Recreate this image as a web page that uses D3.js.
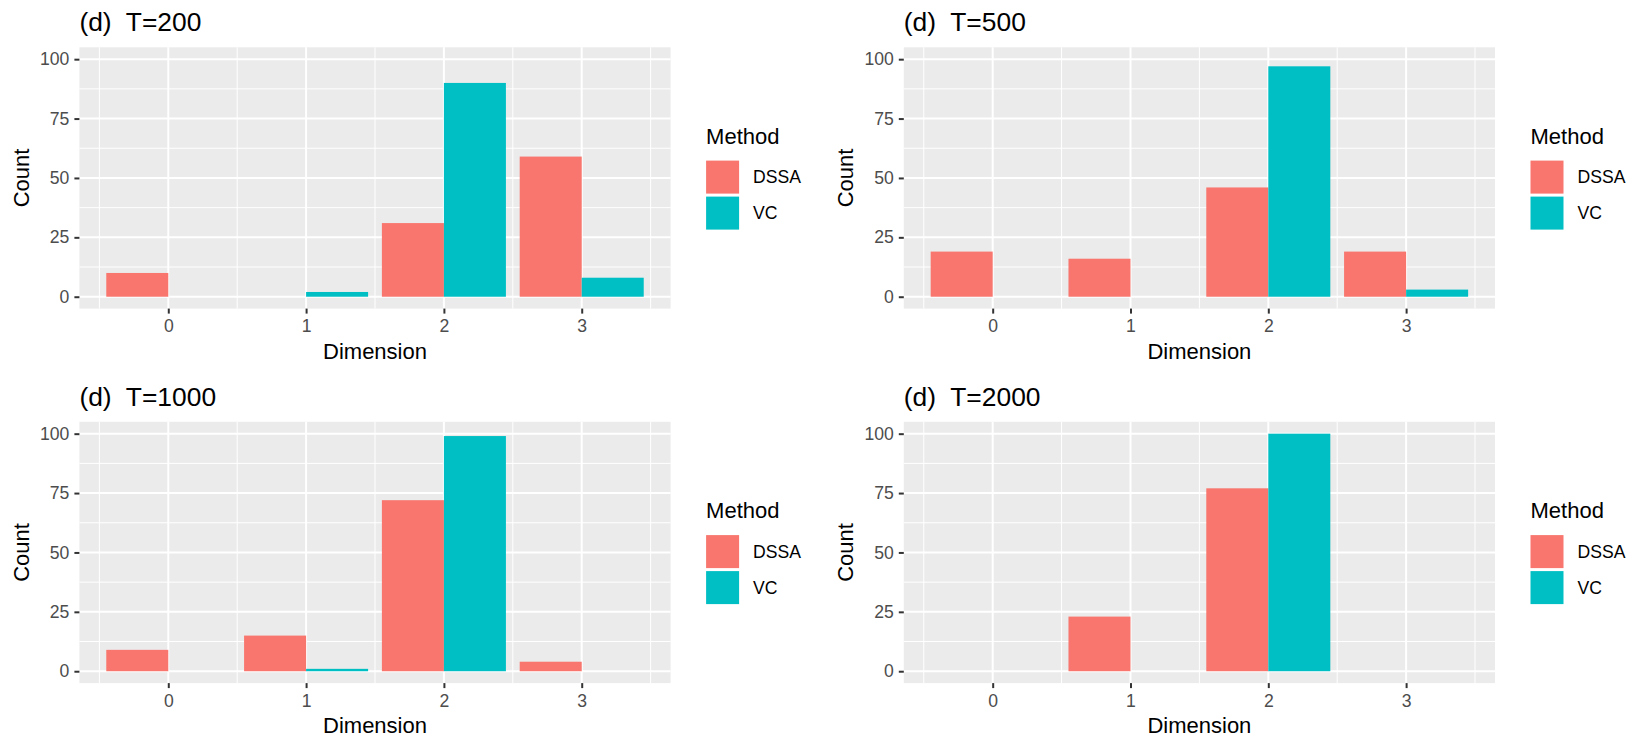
<!DOCTYPE html>
<html>
<head>
<meta charset="utf-8">
<script src="https://cdn.jsdelivr.net/npm/d3@7"></script>
<style>
  body { margin: 0; background: #fff; }
  svg { display: block; font-family: "Liberation Sans", Arial, sans-serif; }
  .tick text { fill: #4D4D4D; }
</style>
</head>
<body>
<svg id="chart" width="1650" height="750"></svg>
<script>
const dims = [0, 1, 2, 3];
const methods = ["DSSA", "VC"];
const methodColors = ["#F8766D", "#00BFC4"];
const panelTitles = ["(d)  T=200", "(d)  T=500", "(d)  T=1000", "(d)  T=2000"];
const dssaCounts = [
    [10, 0, 31, 59],
    [19, 16, 46, 19],
    [9, 15, 72, 4],
    [0, 23, 77, 0]
];
const vcCounts = [
    [0, 2, 90, 8],
    [0, 0, 97, 3],
    [0, 1, 99, 0],
    [0, 0, 100, 0]
];
const yTicks = [0, 25, 50, 75, 100];

const barWidth = 0.9;
const panelW = 591.2;
const colOffset = [79.4, 903.8];
const rowOffset = [47.3, 421.8];
const panelH = 261.3;
const countOffset = -50.4; // y axis title baseline, relative to panel left

const svg = d3.select("#chart");

function drawPanel(i) {
    const left = colOffset[i % 2];
    const top = rowOffset[Math.floor(i / 2)];
    const g = svg.append("g").attr("transform", "translate(" + left + ", " + top + ")");

    // continuous x like ggplot, 5% expansion around the bar edges
    const lo = dims[0] - barWidth / 2;
    const hi = dims[dims.length - 1] + barWidth / 2;
    const pad = (hi - lo) * 0.05;
    const x = d3.scaleLinear().domain([lo - pad, hi + pad]).range([0, panelW]);
    const y = d3.scaleLinear().domain([-5, 105]).range([panelH, 0]);

    g.append("rect")
        .attr("width", panelW)
        .attr("height", panelH)
        .attr("fill", "#EBEBEB");

    // grid lines
    const yMinor = d3.pairs(yTicks).map(p => (p[0] + p[1]) / 2);
    const xMinor = dims.map(d => d - 0.5).concat(dims[dims.length - 1] + 0.5);

    g.selectAll(".hminor").data(yMinor).join("line")
        .attr("x1", 0).attr("x2", panelW)
        .attr("y1", d => y(d)).attr("y2", d => y(d))
        .attr("stroke", "#fff").attr("stroke-width", 1);
    g.selectAll(".vminor").data(xMinor).join("line")
        .attr("y1", 0).attr("y2", panelH)
        .attr("x1", d => x(d)).attr("x2", d => x(d))
        .attr("stroke", "#fff").attr("stroke-width", 1);
    g.selectAll(".hmajor").data(yTicks).join("line")
        .attr("x1", 0).attr("x2", panelW)
        .attr("y1", d => y(d)).attr("y2", d => y(d))
        .attr("stroke", "#fff").attr("stroke-width", 2);
    g.selectAll(".vmajor").data(dims).join("line")
        .attr("y1", 0).attr("y2", panelH)
        .attr("x1", d => x(d)).attr("x2", d => x(d))
        .attr("stroke", "#fff").attr("stroke-width", 2);

    // dodged bars
    const series = [dssaCounts[i], vcCounts[i]];
    series.forEach((vals, m) => {
        g.selectAll(".bar" + m).data(dims).join("rect")
            .attr("x", d => x(d - barWidth / 2 + m * barWidth / 2))
            .attr("width", d => x(barWidth / 2) - x(0))
            .attr("y", (d, k) => y(vals[k]))
            .attr("height", (d, k) => y(0) - y(vals[k]))
            .attr("fill", methodColors[m]);
    });

    // axes
    const yAxis = g.append("g")
        .call(d3.axisLeft(y).tickValues(yTicks).tickSize(5).tickPadding(5));
    const xAxis = g.append("g")
        .attr("transform", "translate(0, " + panelH + ")")
        .call(d3.axisBottom(x).tickValues(dims).tickFormat(d3.format("d")).tickSize(5).tickPadding(6));

    [yAxis, xAxis].forEach(a => {
        a.select(".domain").remove();
        a.selectAll(".tick line").attr("stroke", "#333333").attr("stroke-width", 2);
        a.selectAll(".tick text").attr("font-size", 17.6).attr("fill", "#4D4D4D");
        a.attr("font-family", null);
    });

    // titles
    g.append("text")
        .attr("x", 0)
        .attr("y", -16.3)
        .attr("font-size", 26.4)
        .style("white-space", "pre")
        .text(panelTitles[i]);

    g.append("text")
        .attr("x", panelW / 2)
        .attr("y", panelH + 50)
        .attr("text-anchor", "middle")
        .attr("font-size", 22)
        .text("Dimension");

    g.append("text")
        .attr("transform", "translate(" + countOffset + ", " + (panelH / 2) + ") rotate(-90)")
        .attr("text-anchor", "middle")
        .attr("font-size", 22)
        .text("Count");

    // legend
    const lg = g.append("g").attr("transform", "translate(" + (panelW + 35.5) + ", 0)");
    lg.append("text")
        .attr("y", 96.6)
        .attr("font-size", 22)
        .text("Method");
    methods.forEach((name, m) => {
        lg.append("rect")
            .attr("x", 0)
            .attr("y", 113.3 + m * 36)
            .attr("width", 33)
            .attr("height", 33)
            .attr("fill", methodColors[m]);
        lg.append("text")
            .attr("x", 47)
            .attr("y", 113.3 + m * 36 + 16.5 + 6.3)
            .attr("font-size", 17.6)
            .text(name);
    });
}

panelTitles.forEach((t, i) => drawPanel(i));
</script>
</body>
</html>
